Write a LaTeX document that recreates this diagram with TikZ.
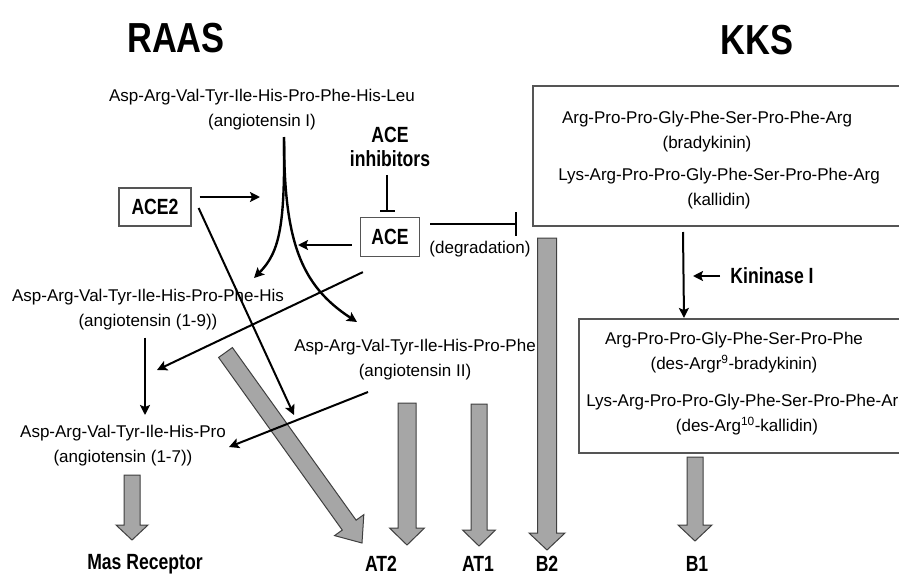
\documentclass[tikz,border=0pt]{standalone}
\usepackage{fontspec}
\usepackage{graphicx}
\setmainfont{Liberation Sans}
\usetikzlibrary{arrows.meta,calc}
\definecolor{gfill}{HTML}{A6A6A6}
\definecolor{gline}{HTML}{3F3F3F}
\definecolor{bline}{HTML}{555555}
\newcommand\nb[1]{\scalebox{0.8}[1]{#1}}
\newcommand\tb[1]{\scalebox{0.82}[1]{#1}}
% #1 start, #2 end, #3 shaft half width, #4 head half width, #5 head length
\newcommand\grayarrow[5]{%
  \coordinate (#1h) at ($(#2)!#5!(#1)$);
  \draw[grayarr] ($(#1)!#3!90:(#2)$) -- ($(#1h)!#3!90:(#2)$) -- ($(#1h)!#4!90:(#2)$) -- (#2)
     -- ($(#1h)!#4!-90:(#2)$) -- ($(#1h)!#3!-90:(#2)$) -- ($(#1)!#3!-90:(#2)$) -- cycle;
}
\begin{document}
\begin{tikzpicture}[x=1pt,y=-1pt,
  txt/.style={font=\fontsize{17}{25}\selectfont, align=center, inner sep=0pt},
  bold/.style={font=\bfseries\fontsize{22}{24}\selectfont, align=center, inner sep=0pt},
  title/.style={font=\bfseries\fontsize{42}{44}\selectfont, inner sep=0pt},
  boxed/.style={draw=bline, line width=1.2pt, inner sep=0pt},
  arr/.style={draw, line width=2pt, -{Stealth[length=10pt,width=10pt,inset=2pt]}},
  inh/.style={draw, line width=2pt},
  grayarr/.style={fill=gfill, draw=gline, line width=1pt, line join=miter}]
\useasboundingbox (0,0) rectangle (899,576);
\clip (0,0) rectangle (899,576);

% gray block arrows (below the black lines)
\coordinate (masS) at (132,475);  \coordinate (masE) at (132,540);
\coordinate (at2S) at (407,403);  \coordinate (at2E) at (407,545);
\coordinate (at1S) at (479,404);  \coordinate (at1E) at (479,546);
\coordinate (b2S) at (547,238);   \coordinate (b2E) at (547,550);
\coordinate (b1S) at (695,457);   \coordinate (b1E) at (695,541);
\coordinate (dgS) at (225.5,352.5); \coordinate (dgE) at (362,543);
\grayarrow{masS}{masE}{8pt}{16pt}{15pt}
\grayarrow{at2S}{at2E}{9pt}{17.5pt}{17pt}
\grayarrow{at1S}{at1E}{8pt}{16.5pt}{16pt}
\grayarrow{b2S}{b2E}{9.5pt}{18pt}{17pt}
\grayarrow{b1S}{b1E}{8pt}{17pt}{16pt}
\grayarrow{dgS}{dgE}{8.5pt}{18pt}{22pt}

% titles
\node[title] (raas) at (176,38) {\tb{RAAS}};
\node[title] (kks) at (757,40) {\tb{KKS}};

% RAAS texts
\node[txt] (angI) at (262,110) {Asp-Arg-Val-Tyr-Ile-His-Pro-Phe-His-Leu\\(angiotensin I)};
\node[txt] (ang19) at (148,310) {Asp-Arg-Val-Tyr-Ile-His-Pro-Phe-His\\(angiotensin (1-9))};
\node[txt] (ang17) at (123,446) {Asp-Arg-Val-Tyr-Ile-His-Pro\\(angiotensin (1-7))};
\node[txt] (angII) at (415,360) {Asp-Arg-Val-Tyr-Ile-His-Pro-Phe\\(angiotensin II)};
\node[bold] (acei) at (390,147) {\nb{ACE}\\\nb{inhibitors}};
\node[boxed, bold, minimum width=72pt, minimum height=38pt] (ace2) at (155,207) {\nb{ACE2}};
\node[boxed, bold, minimum width=59pt, minimum height=39pt] (ace) at (390,237) {\nb{ACE}};
\node[txt] (degr) at (480,249) {(degradation)};

% KKS boxes and texts
\node[boxed, minimum width=387pt, minimum height=140pt] (kbox) at (726.5,156) {};
\node[txt] (brady) at (707,132) {Arg-Pro-Pro-Gly-Phe-Ser-Pro-Phe-Arg\\(bradykinin)};
\node[txt] (kall) at (719,189) {Lys-Arg-Pro-Pro-Gly-Phe-Ser-Pro-Phe-Arg\\(kallidin)};
\node[boxed, minimum width=341pt, minimum height=134pt] (kbox2) at (749.5,386) {};
\node[txt] (desbrady) at (734,353) {Arg-Pro-Pro-Gly-Phe-Ser-Pro-Phe\\(des-Argr\textsuperscript{9}-bradykinin)};
\node[txt] (deskall) at (747,415) {Lys-Arg-Pro-Pro-Gly-Phe-Ser-Pro-Phe-Arg\\(des-Arg\textsuperscript{10}-kallidin)};
\node[bold] (kin) at (772,276) {\nb{Kininase I}};

% receptor labels
\node[bold] (mas) at (145,564) {\nb{Mas Receptor}};
\node[bold] (at2) at (381,564) {\nb{AT2}};
\node[bold] (at1) at (478,564) {\nb{AT1}};
\node[bold] (b2) at (547,564) {\nb{B2}};
\node[bold] (b1) at (697,564) {\nb{B1}};

% connector end points
\coordinate (fork) at (284,137);
\coordinate (t19) at (254,278);
\coordinate (tII) at (357,322);
\coordinate (c1) at (260,197);
\coordinate (c2) at (298,245);
\coordinate (c3) at (517,224);
\coordinate (t17a) at (294,415);
\coordinate (t17b) at (157,370);
\coordinate (t17c) at (229,447);
\coordinate (s17c) at (368,392);
\coordinate (t17d) at (145,415);
\coordinate (k1) at (683,232);
\coordinate (k2) at (684,318);
\coordinate (kin2) at (693,276);

% connectors
\draw[arr, line width=2.4pt] (fork) .. controls (285,225) and (280,252) .. (t19);
\draw[arr, line width=2.4pt] (fork) .. controls (284,240) and (300,285) .. (tII);
\draw[arr] ($(ace2.east)+(8,-10)$) -- (c1);
\draw[arr] ($(ace.west)+(-8,8)$) -- (c2);
\draw[inh, -{Bar[width=15pt,line width=2pt]}] ($(acei.south)+(-3,8)$) -- ($(ace.north)+(-3,-5)$);
\draw[inh, -{Bar[width=24pt,line width=2pt]}] ($(ace.east)+(10,-13)$) -- (c3);
\draw[arr] ($(ace2.east)+(7,1)$) -- (t17a);
\draw[arr] ($(ace.south west)+(3,15)$) -- (t17b);
\draw[arr] (s17c) -- (t17c);
\draw[arr] ($(ang19.south)+(-3,7)$) -- (t17d);
\draw[arr] (k1) -- (k2);
\draw[arr] ($(kin.west)+(-10,0)$) -- (kin2);
\end{tikzpicture}
\end{document}
